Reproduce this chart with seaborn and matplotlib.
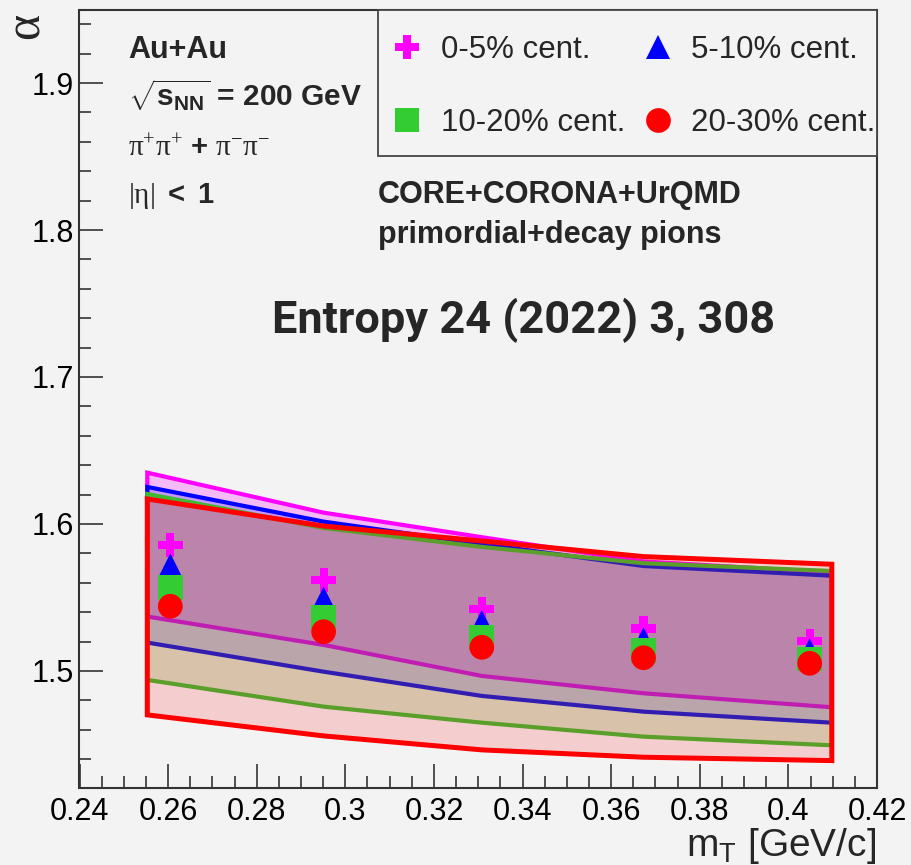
import numpy as np
import pandas as pd
import matplotlib
matplotlib.use("Agg")
import matplotlib.pyplot as plt
from matplotlib.lines import Line2D
from matplotlib.patches import Rectangle
from matplotlib.ticker import MultipleLocator, FuncFormatter
import seaborn as sns

# ---- data -------------------------------------------------------------
centralities = ["0-5% cent.", "5-10% cent.", "10-20% cent.", "20-30% cent."]

mt_points = [0.2605, 0.2951, 0.3308, 0.3673, 0.4048]
alpha_0_5 = [1.5856, 1.5618, 1.5420, 1.5288, 1.5202]
alpha_5_10 = [1.5716, 1.5490, 1.5331, 1.5213, 1.5138]
alpha_10_20 = [1.5569, 1.5365, 1.5229, 1.5138, 1.5082]
alpha_20_30 = [1.5440, 1.5267, 1.5161, 1.5090, 1.5052]

# model bands (CORE+CORONA+UrQMD)
mt_band = [0.2553, 0.2951, 0.3308, 0.3673, 0.4098]
band_hi_0_5 = [1.6349, 1.6077, 1.5910, 1.5745, 1.5670]
band_lo_0_5 = [1.5370, 1.5177, 1.4966, 1.4848, 1.4753]
band_hi_5_10 = [1.6252, 1.6016, 1.5864, 1.5714, 1.5648]
band_lo_5_10 = [1.5193, 1.4995, 1.4830, 1.4723, 1.4648]
band_hi_10_20 = [1.6204, 1.5973, 1.5844, 1.5733, 1.5680]
band_lo_10_20 = [1.4939, 1.4757, 1.4648, 1.4553, 1.4494]
band_hi_20_30 = [1.6170, 1.5986, 1.5884, 1.5778, 1.5726]
band_lo_20_30 = [1.4701, 1.4558, 1.4463, 1.4413, 1.4390]

x_ticks = [0.24, 0.26, 0.28, 0.30, 0.32, 0.34, 0.36, 0.38, 0.40, 0.42]
y_ticks = [1.5, 1.6, 1.7, 1.8, 1.9]

# ---- style ------------------------------------------------------------
BG = "#F3F3F3"
AX = "#333333"
sns.set_theme(style="ticks")
plt.rcParams["font.family"] = ["Liberation Sans", "DejaVu Sans"]
plt.rcParams["mathtext.fontset"] = "custom"
plt.rcParams["mathtext.rm"] = "Liberation Sans"
plt.rcParams["mathtext.bf"] = "Liberation Sans:bold"
plt.rcParams["mathtext.it"] = "Liberation Sans:italic"
plt.rcParams["mathtext.sf"] = "Liberation Serif"

colors = {
    "0-5% cent.": "#FF00FF",
    "5-10% cent.": "#0000FF",
    "10-20% cent.": "#33CC33",
    "20-30% cent.": "#FF0000",
}
markers = {
    "0-5% cent.": "P",
    "5-10% cent.": "^",
    "10-20% cent.": "s",
    "20-30% cent.": "o",
}
band_edge = {
    "0-5% cent.": "#FF00FF",
    "5-10% cent.": "#0000FF",
    "10-20% cent.": "#3CBB32",
    "20-30% cent.": "#FF0000",
}
band_face = {
    "0-5% cent.": (1.0, 0.0, 1.0, 0.23),
    "5-10% cent.": (0.0, 0.0, 1.0, 0.185),
    "10-20% cent.": (80 / 255, 180 / 255, 30 / 255, 0.20),
    "20-30% cent.": (1.0, 0.0, 0.0, 0.15),
}

W, H = 912, 865
fig = plt.figure(figsize=(W / 100, H / 100), dpi=100, facecolor=BG)
ax_l, ax_r, ax_t, ax_b = 79.5, 877.0, 10.0, 787.5
ax = fig.add_axes([ax_l / W, 1 - ax_b / H, (ax_r - ax_l) / W, (ax_b - ax_t) / H])
ax.set_facecolor(BG)

# ---- bands ------------------------------------------------------------
bands = [
    ("0-5% cent.", band_hi_0_5, band_lo_0_5),
    ("5-10% cent.", band_hi_5_10, band_lo_5_10),
    ("10-20% cent.", band_hi_10_20, band_lo_10_20),
    ("20-30% cent.", band_hi_20_30, band_lo_20_30),
]
z = 2
for name, hi, lo in bands:
    xs = list(mt_band) + list(mt_band[::-1])
    ys = list(hi) + list(lo[::-1])
    ax.fill(xs, ys, facecolor=band_face[name], edgecolor="none", zorder=z)
    lw = 3.6 if name == "20-30% cent." else 3.0
    ax.fill(xs, ys, facecolor="none", edgecolor=band_edge[name], linewidth=lw,
            joinstyle="miter", zorder=z + 0.5)
    z += 1

# ---- points -----------------------------------------------------------
series = [alpha_0_5, alpha_5_10, alpha_10_20, alpha_20_30]
df = pd.concat(
    [pd.DataFrame({"mT": mt_points, "alpha": vals, "cent": name})
     for name, vals in zip(centralities, series)],
    ignore_index=True,
)
ms = 17.8
sns.scatterplot(data=df, x="mT", y="alpha", hue="cent", style="cent",
                palette=colors, markers=markers, hue_order=centralities,
                style_order=centralities, s=ms ** 2, linewidth=0,
                legend=False, ax=ax, zorder=10)

# ---- axes -------------------------------------------------------------
ax.set_xlim(0.24, 0.42)
ax.set_ylim(1.4207, 1.9497)
ax.xaxis.set_major_locator(MultipleLocator(0.02))
ax.xaxis.set_minor_locator(MultipleLocator(0.005))
ax.yaxis.set_major_locator(MultipleLocator(0.1))
ax.yaxis.set_minor_locator(MultipleLocator(0.02))
ax.set_xticks(x_ticks)
ax.set_yticks(y_ticks)
ax.xaxis.set_major_formatter(FuncFormatter(lambda v, p: f"{v:g}"))
ax.yaxis.set_major_formatter(FuncFormatter(lambda v, p: f"{v:g}"))
ax.tick_params(axis="both", which="both", direction="in", color=AX,
               top=False, right=False, width=1.2, labelsize=22,
               labelcolor="black")
ax.tick_params(axis="both", which="major", length=17)
ax.tick_params(axis="both", which="minor", length=8.5)
ax.tick_params(axis="x", which="major", pad=7)
ax.tick_params(axis="y", which="major", pad=4)
for sp in ax.spines.values():
    sp.set_visible(True)
    sp.set_color(AX)
    sp.set_linewidth(1.5)
ax.set_xlabel("")
ax.set_ylabel("")

def px(x, y):
    return x / W, 1 - y / H

fig.text(*px(876, 856), r"m$_{\mathrm{T}}$ [GeV/c]", fontsize=28,
         ha="right", va="baseline")
fig.text(*px(26, 26), "α", fontsize=36, family=["Liberation Serif"],
         rotation=90, ha="center", va="center")

# ---- legend -----------------------------------------------------------
lx0 = (378 - ax_l) / (ax_r - ax_l)
ly0 = (ax_b - 155.7) / (ax_b - ax_t)
ax.add_patch(Rectangle((lx0, ly0), 1 - lx0, 1 - ly0, transform=ax.transAxes,
                       facecolor=BG, edgecolor="#444444", linewidth=1.3,
                       zorder=20, clip_on=False))
# legend fills column-wise, so order entries to read row-wise
leg_order = ["0-5% cent.", "10-20% cent.", "5-10% cent.", "20-30% cent."]
handles = [Line2D([], [], linestyle="none", marker=markers[c], color=colors[c],
                  markersize=ms, markeredgewidth=0) for c in leg_order]
leg = ax.legend(handles, leg_order, ncol=2, frameon=False, fontsize=22.5,
                loc="center",
                bbox_to_anchor=((627.5 - ax_l) / (ax_r - ax_l),
                                (ax_b - 86.5) / (ax_b - ax_t)),
                borderpad=0.1, handlelength=1.8, handletextpad=0.17,
                columnspacing=0.15, labelspacing=1.38)
leg.set_zorder(21)

# ---- annotations ------------------------------------------------------
fig.text(*px(128, 58), "Au+Au", fontsize=22, fontweight="bold", va="baseline")
fig.text(*px(128, 106), r"$\sqrt{\mathbf{s}_{\mathbf{NN}}}$ = 200 GeV",
         fontsize=21.5, fontweight="bold", va="baseline")
fig.text(*px(128, 156),
         r"$\mathsf{\pi^{+}\pi^{+}}\ \mathbf{+}\ \mathsf{\pi^{-}\pi^{-}}$",
         fontsize=21, va="baseline")
fig.text(*px(128, 203), r"$\mathsf{|\eta|}$ $\mathbf{<}$ $\mathbf{1}$",
         fontsize=21, va="baseline")
fig.text(*px(378, 203), "CORE+CORONA+UrQMD", fontsize=22, fontweight="bold",
         va="baseline")
fig.text(*px(378, 243), "primordial+decay pions", fontsize=22,
         fontweight="bold", va="baseline")
fig.text(*px(523.5, 333), "Entropy 24 (2022) 3, 308", fontsize=32.5,
         fontweight="bold", family=["Roboto", "DejaVu Sans"], ha="center",
         va="baseline")

fig.savefig("out.png", dpi=100, facecolor=BG)
